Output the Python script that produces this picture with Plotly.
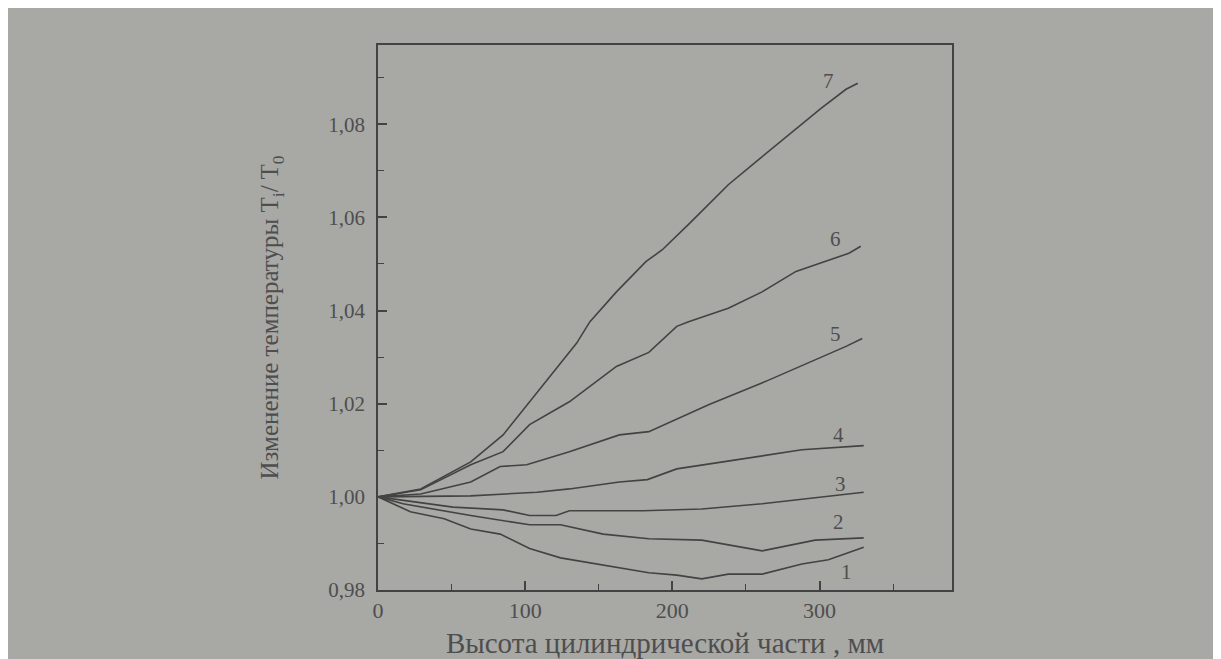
import plotly.graph_objects as go

# ---- data ----
x7 = [0, 29, 63, 85, 121, 135, 144, 162, 182, 193, 211, 238, 259, 288, 301, 318, 326]
y7 = [1.000, 1.0017, 1.0075, 1.0133, 1.0275, 1.033, 1.0376, 1.044, 1.0505, 1.053, 1.0585, 1.067, 1.0725, 1.080, 1.0834, 1.0875, 1.0888]

x6 = [0, 29, 63, 85, 103, 130, 162, 184, 203, 211, 238, 261, 284, 320, 328]
y6 = [1.000, 1.0015, 1.0069, 1.0097, 1.0155, 1.0204, 1.028, 1.031, 1.0366, 1.0376, 1.0405, 1.044, 1.0484, 1.0523, 1.0538]

x5 = [0, 29, 63, 83, 101, 130, 164, 184, 225, 265, 318, 329]
y5 = [1.000, 1.0006, 1.0032, 1.0065, 1.0069, 1.0097, 1.0133, 1.014, 1.0198, 1.025, 1.0323, 1.034]

x4 = [0, 63, 108, 130, 164, 183, 203, 244, 288, 330]
y4 = [1.000, 1.0002, 1.001, 1.0017, 1.0032, 1.0037, 1.006, 1.008, 1.0101, 1.011]

x3 = [0, 17, 51, 85, 103, 121, 130, 180, 220, 261, 320, 330]
y3 = [1.000, 0.9993, 0.9978, 0.9972, 0.996, 0.996, 0.997, 0.997, 0.9974, 0.9985, 1.0006, 1.001]

x2 = [0, 17, 63, 103, 124, 153, 184, 220, 261, 297, 330]
y2 = [1.000, 0.9985, 0.996, 0.994, 0.994, 0.992, 0.991, 0.9907, 0.9884, 0.9907, 0.9912]

x1 = [0, 22, 45, 63, 83, 103, 124, 153, 184, 203, 220, 238, 261, 288, 306, 330]
y1 = [1.000, 0.9968, 0.9953, 0.9931, 0.992, 0.9889, 0.9869, 0.9854, 0.9837, 0.9832, 0.9824, 0.9834, 0.9834, 0.9856, 0.9865, 0.9892]

series = [("1", x1, y1), ("2", x2, y2), ("3", x3, y3), ("4", x4, y4),
          ("5", x5, y5), ("6", x6, y6), ("7", x7, y7)]

# curve number labels (data positions of the text)
label_names = ["1", "2", "3", "4", "5", "6", "7"]
label_x = [318, 313, 314, 313, 311, 311, 306]
label_y = [0.9839, 0.9946, 1.0028, 1.0133, 1.035, 1.0553, 1.0892]

x_tickvals = [0, 100, 200, 300]
x_ticktext = ["0", "100", "200", "300"]
y_tickvals = [0.98, 1.00, 1.02, 1.04, 1.06, 1.08]
y_ticktext = ["0,98", "1,00", "1,02", "1,04", "1,06", "1,08"]

x_title = "Высота цилиндрической части , мм"
y_title = "Изменение температуры T<sub>i</sub>/ T<sub>0</sub>"

BG = "#a8a8a5"
INK = "#434343"
TXT = "#4e4e4e"
FONT = "Liberation Serif"

fig = go.Figure()
for name, xs, ys in series:
    fig.add_trace(go.Scatter(x=xs, y=ys, mode="lines", name=name,
                             line=dict(color=INK, width=1.6), showlegend=False,
                             hoverinfo="x+y"))

for n, lx, ly in zip(label_names, label_x, label_y):
    fig.add_annotation(x=lx, y=ly, text=n, showarrow=False,
                       font=dict(family=FONT, size=21, color=TXT))

# the page's own 8px body margin gives the white edge on the left and top
W, H = 1213, 651
L, T = 370, 37
R, B = W - 944, 69

fig.update_layout(
    width=W, height=H,
    margin=dict(l=L, r=R, t=T, b=B, autoexpand=False),
    paper_bgcolor=BG,
    plot_bgcolor=BG,
    font=dict(family=FONT, color=TXT),
)

fig.update_xaxes(
    range=[0, 390], tickvals=x_tickvals, ticktext=x_ticktext, automargin=False,
    ticks="inside", ticklen=9, tickwidth=1.5, tickcolor=INK,
    minor=dict(dtick=50, tick0=0, ticks="inside", ticklen=6, tickwidth=1.3, tickcolor=INK),
    showline=True, linecolor=INK, linewidth=1.8, mirror=True,
    showgrid=False, zeroline=False,
    tickfont=dict(family=FONT, size=22, color=TXT),
    title=dict(text=x_title, font=dict(family=FONT, size=29, color=TXT), standoff=12),
)
fig.update_yaxes(
    range=[0.98, 1.097], tickvals=y_tickvals, ticktext=y_ticktext, automargin=False,
    ticks="inside", ticklen=9, tickwidth=1.5, tickcolor=INK,
    minor=dict(dtick=0.01, tick0=0.98, ticks="inside", ticklen=6, tickwidth=1.3, tickcolor=INK),
    showline=True, linecolor=INK, linewidth=1.8, mirror=True,
    showgrid=False, zeroline=False, ticklabelstandoff=7,
    tickfont=dict(family=FONT, size=21, color=TXT),
    title=dict(text=y_title, font=dict(family=FONT, size=25, color=TXT), standoff=42),
)

fig.write_html("out.html")
